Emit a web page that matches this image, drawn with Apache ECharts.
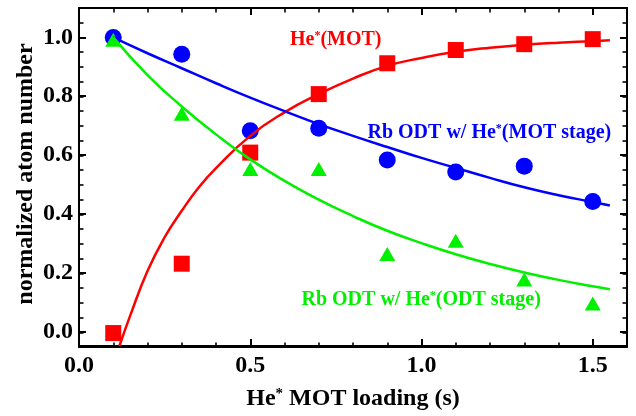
<!DOCTYPE html>
<html>
<head>
<meta charset="utf-8">
<script src="https://cdn.jsdelivr.net/npm/echarts@6/dist/echarts.min.js"></script>
<style>
  html, body { margin: 0; padding: 0; background: #fff; }
  #chart { width: 636px; height: 416px; }
</style>
</head>
<body>
<div id="chart"></div>
<script>
// measured points (x = He* MOT loading time in s)
const loadTime = [0.1, 0.3, 0.5, 0.7, 0.9, 1.1, 1.3, 1.5];
const heMot = [-0.006, 0.23, 0.608, 0.807, 0.912, 0.957, 0.977, 0.994];
const rbMotStage = [1.0, 0.943, 0.682, 0.691, 0.583, 0.542, 0.562, 0.442];
const rbOdtStage = [0.992, 0.74, 0.552, 0.552, 0.263, 0.308, 0.176, 0.095];

// fit curves
const heMotFitX = [0.118, 0.15, 0.2, 0.25, 0.3, 0.35, 0.4, 0.5, 0.6, 0.7, 0.8, 0.9, 1.0, 1.1, 1.2, 1.3, 1.4, 1.5, 1.55];
const heMotFitY = [-0.05, 0.055, 0.205, 0.32, 0.41, 0.49, 0.555, 0.665, 0.745, 0.807, 0.86, 0.903, 0.93, 0.951, 0.965, 0.975, 0.982, 0.987, 0.99];
const fitX = [0.1, 0.2, 0.3, 0.4, 0.5, 0.6, 0.7, 0.8, 0.9, 1.0, 1.1, 1.2, 1.3, 1.4, 1.5, 1.55];
const rbMotFitY = [1.0, 0.946, 0.895, 0.844, 0.795, 0.749, 0.705, 0.665, 0.627, 0.59, 0.556, 0.522, 0.49, 0.463, 0.44, 0.428];
const rbOdtFitY = [1.0, 0.872, 0.765, 0.67, 0.585, 0.512, 0.448, 0.392, 0.342, 0.3, 0.262, 0.229, 0.2, 0.175, 0.153, 0.143];

// tick values
const yMajorTicks = [0, 0.2, 0.4, 0.6, 0.8, 1.0];

const FONT = 'Liberation Serif';
const RED = '#ff0000', BLUE = '#0000ff', GREEN = '#00f000';

const zip = (xs, ys) => xs.map((x, i) => [x, ys[i]]);

const chart = echarts.init(document.getElementById('chart'));

const gridRect = {left: 79, right: 9, top: 8, bottom: 69};
// every axis keeps a visible line, otherwise the hidden one snaps onto zero
const frameLine = () => ({show: true, onZero: false, lineStyle: {color: '#000', width: 2}});
const majorTick = () => ({show: true, inside: true, length: 7, lineStyle: {color: '#000', width: 2}});
const minorTick = () => ({show: true, inside: true, length: 4.5, lineStyle: {color: '#000', width: 1.6}});

const labelStyle = {color: '#000', fontSize: 24, fontWeight: 'bold', fontFamily: FONT};

// rich styles for text with a superscript star (axis name uses color, graphic uses fill)
const supRich = (size, color) => ({
  b: {fontSize: size, fontWeight: 'bold', fontFamily: FONT, color: color, fill: color},
  s: {fontSize: Math.round(size * 0.62), fontWeight: 'bold', fontFamily: FONT, color: color, fill: color, verticalAlign: 'top'}
});

const minorX = pos => ({
  type: 'value', gridIndex: 1, position: pos,
  min: 0, max: 1.6, interval: 0.1,
  axisLine: frameLine(), axisTick: minorTick(), splitLine: {show: false},
  axisLabel: {show: false}
});
const minorY = pos => ({
  type: 'value', gridIndex: 1, position: pos,
  min: -0.05, max: 1.1, interval: 0.05,
  axisLine: frameLine(), axisTick: minorTick(), splitLine: {show: false},
  axisLabel: {show: false}
});

const option = {
  animation: false,
  backgroundColor: '#fff',
  grid: [
    Object.assign({}, gridRect),
    Object.assign({}, gridRect)
  ],
  xAxis: [
    {
      type: 'value', gridIndex: 0, position: 'bottom',
      min: 0, max: 1.6, interval: 0.5,
      axisLine: frameLine(), axisTick: majorTick(), splitLine: {show: false},
      axisLabel: Object.assign({margin: 8, showMaxLabel: false, formatter: v => v.toFixed(1)}, labelStyle),
      name: '{b|He}{s|*}{b| MOT loading (s)}',
      nameLocation: 'middle', nameGap: 41,
      nameTextStyle: {rich: supRich(24, '#000')}
    },
    {
      type: 'value', gridIndex: 0, position: 'top',
      min: 0, max: 1.6, interval: 0.5,
      axisLine: frameLine(), axisTick: majorTick(), splitLine: {show: false},
      axisLabel: {show: false}
    },
    minorX('bottom'),
    minorX('top')
  ],
  yAxis: [
    {
      type: 'value', gridIndex: 0, position: 'left',
      min: -0.05, max: 1.1,
      axisLine: frameLine(),
      axisTick: Object.assign(majorTick(), {customValues: yMajorTicks}),
      splitLine: {show: false},
      axisLabel: Object.assign({margin: 6, customValues: yMajorTicks, formatter: v => v.toFixed(1)}, labelStyle)
    },
    {
      type: 'value', gridIndex: 0, position: 'right',
      min: -0.05, max: 1.1,
      axisLine: frameLine(),
      axisTick: Object.assign(majorTick(), {customValues: yMajorTicks}),
      splitLine: {show: false},
      axisLabel: {show: false}
    },
    minorY('left'),
    minorY('right')
  ],
  series: [
    {
      name: 'He*(MOT)', type: 'scatter', xAxisIndex: 0, yAxisIndex: 0,
      symbol: 'rect', symbolSize: 16,
      itemStyle: {color: RED, opacity: 1},
      data: zip(loadTime, heMot)
    },
    {
      name: 'Rb ODT w/ He*(MOT stage)', type: 'scatter', xAxisIndex: 0, yAxisIndex: 0,
      symbol: 'circle', symbolSize: 17,
      itemStyle: {color: BLUE, opacity: 1},
      data: zip(loadTime, rbMotStage)
    },
    {
      name: 'Rb ODT w/ He*(ODT stage)', type: 'scatter', xAxisIndex: 0, yAxisIndex: 0,
      symbol: 'triangle', symbolSize: [16, 14],
      itemStyle: {color: GREEN, opacity: 1},
      data: zip(loadTime, rbOdtStage)
    },
    {
      type: 'line', xAxisIndex: 0, yAxisIndex: 0, smooth: true, showSymbol: false, symbol: 'none',
      lineStyle: {color: RED, width: 2.5},
      data: zip(heMotFitX, heMotFitY)
    },
    {
      type: 'line', xAxisIndex: 0, yAxisIndex: 0, smooth: true, showSymbol: false, symbol: 'none',
      lineStyle: {color: BLUE, width: 2.5},
      data: zip(fitX, rbMotFitY)
    },
    {
      type: 'line', xAxisIndex: 0, yAxisIndex: 0, smooth: true, showSymbol: false, symbol: 'none',
      lineStyle: {color: GREEN, width: 2.5},
      data: zip(fitX, rbOdtFitY)
    }
  ],
  graphic: [
    {
      type: 'text', x: 290, y: 39.5,
      style: {text: '{b|He}{s|*}{b|(MOT)}', rich: supRich(20, RED), fill: RED, align: 'left', verticalAlign: 'middle'}
    },
    {
      type: 'text', x: 367.5, y: 132.5,
      style: {text: '{b|Rb ODT w/ He}{s|*}{b|(MOT stage)}', rich: supRich(20, BLUE), fill: BLUE, align: 'left', verticalAlign: 'middle'}
    },
    {
      type: 'text', x: 301.5, y: 300,
      style: {text: '{b|Rb ODT w/ He}{s|*}{b|(ODT stage)}', rich: supRich(20, GREEN), fill: GREEN, align: 'left', verticalAlign: 'middle'}
    },
    {
      type: 'text', x: 26, y: 174, rotation: Math.PI / 2,
      style: {text: 'normalized atom number', fill: '#000', fontSize: 24, fontWeight: 'bold', fontFamily: FONT, align: 'center', verticalAlign: 'middle'}
    }
  ]
};

chart.setOption(option);
</script>
</body>
</html>
